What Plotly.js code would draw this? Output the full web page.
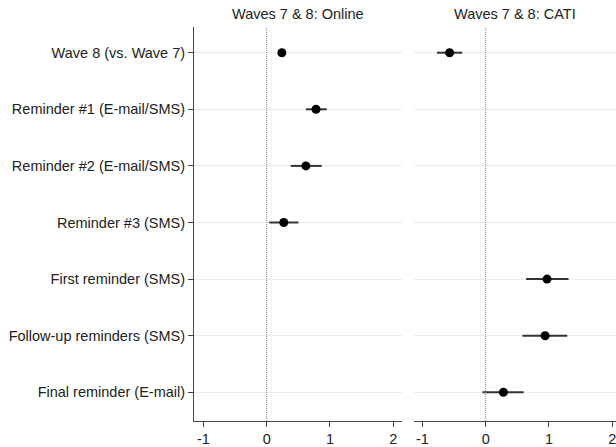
<!DOCTYPE html>
<html>
<head>
<meta charset="utf-8">
<script src="https://cdn.plot.ly/plotly-3.0.1.min.js"></script>
<style>html,body{margin:0;padding:0;background:#fff}#chart{width:616px;height:447px}</style>
</head>
<body>
<div id="chart"></div>
<script>
var rowLabels = ["Wave 8 (vs. Wave 7)", "Reminder #1 (E-mail/SMS)", "Reminder #2 (E-mail/SMS)", "Reminder #3 (SMS)", "First reminder (SMS)", "Follow-up reminders (SMS)", "Final reminder (E-mail)"];
var rowPos = [1, 2, 3, 4, 5, 6, 7];

// Online panel
var onlineRows = [1, 2, 3, 4];
var onlineEst = [0.24, 0.78, 0.62, 0.27];
var onlineLo = [0.22, 0.62, 0.38, 0.04];
var onlineHi = [0.26, 0.95, 0.87, 0.50];

// CATI panel
var catiRows = [1, 5, 6, 7];
var catiEst = [-0.57, 0.97, 0.94, 0.28];
var catiLo = [-0.77, 0.64, 0.58, -0.05];
var catiHi = [-0.37, 1.31, 1.29, 0.60];

var xTicks = [-1, 0, 1, 2];
var panelTitles = ["Waves 7 & 8: Online", "Waves 7 & 8: CATI"];

function mk(est, lo, hi, rows, xa, ya) {
  return {
    type: 'scatter', mode: 'markers',
    x: est, y: rows, xaxis: xa, yaxis: ya,
    marker: {color: '#000', size: 9},
    error_x: {
      type: 'data', symmetric: false,
      array: est.map(function(v, i){ return hi[i] - v; }),
      arrayminus: est.map(function(v, i){ return v - lo[i]; }),
      width: 0, thickness: 2, color: '#333'
    },
    hoverinfo: 'none', showlegend: false
  };
}

var data = [
  mk(onlineEst, onlineLo, onlineHi, onlineRows, 'x', 'y'),
  mk(catiEst, catiLo, catiHi, catiRows, 'x2', 'y2')
];

var font = {family: 'Liberation Sans, Arial, sans-serif', size: 14.5, color: '#222'};
var xbase = {
  tickvals: xTicks, ticktext: xTicks.map(String),
  ticks: 'outside', ticklen: 5, tickcolor: '#444', tickwidth: 1,
  showline: true, linecolor: '#444', linewidth: 1, ticklabeloverflow: 'allow',
  showgrid: false, zeroline: false, tickfont: font, fixedrange: true
};
var ybase = {
  range: [7.507, 0.546], tickvals: rowPos, showgrid: true,
  gridcolor: '#ebebeb', gridwidth: 1, zeroline: false, fixedrange: true
};

var layout = {
  width: 616, height: 447,
  margin: {l: 194, r: 0, t: 27, b: 26},
  paper_bgcolor: '#fff', plot_bgcolor: '#fff',
  font: font,
  xaxis: Object.assign({}, xbase, {domain: [0, 0.4929], range: [-1.148, 2.138], anchor: 'y'}),
  xaxis2: Object.assign({}, xbase, {domain: [0.5213, 1], range: [-1.133, 2.06], anchor: 'y2'}),
  yaxis: Object.assign({}, ybase, {
    anchor: 'x', ticktext: rowLabels, ticks: 'outside', ticklen: 5, tickcolor: '#444',
    showline: true, linecolor: '#444', linewidth: 1, tickfont: font
  }),
  yaxis2: Object.assign({}, ybase, {
    anchor: 'x2', matches: 'y', showticklabels: false, ticks: '', showline: false
  }),
  shapes: [
    {type: 'line', xref: 'x', yref: 'paper', x0: 0, x1: 0, y0: 0, y1: 1,
     line: {color: '#888', width: 1, dash: '1px,1px'}},
    {type: 'line', xref: 'x2', yref: 'paper', x0: 0, x1: 0, y0: 0, y1: 1,
     line: {color: '#888', width: 1, dash: '1px,1px'}}
  ],
  annotations: [
    {text: panelTitles[0], xref: 'x domain', yref: 'paper', x: 0.5, y: 1, yshift: 13,
     showarrow: false, font: font, xanchor: 'center', yanchor: 'middle'},
    {text: panelTitles[1], xref: 'x2 domain', yref: 'paper', x: 0.5, y: 1, yshift: 13,
     showarrow: false, font: font, xanchor: 'center', yanchor: 'middle'}
  ]
};

Plotly.newPlot('chart', data, layout, {displayModeBar: false, staticPlot: true});
</script>
</body>
</html>
